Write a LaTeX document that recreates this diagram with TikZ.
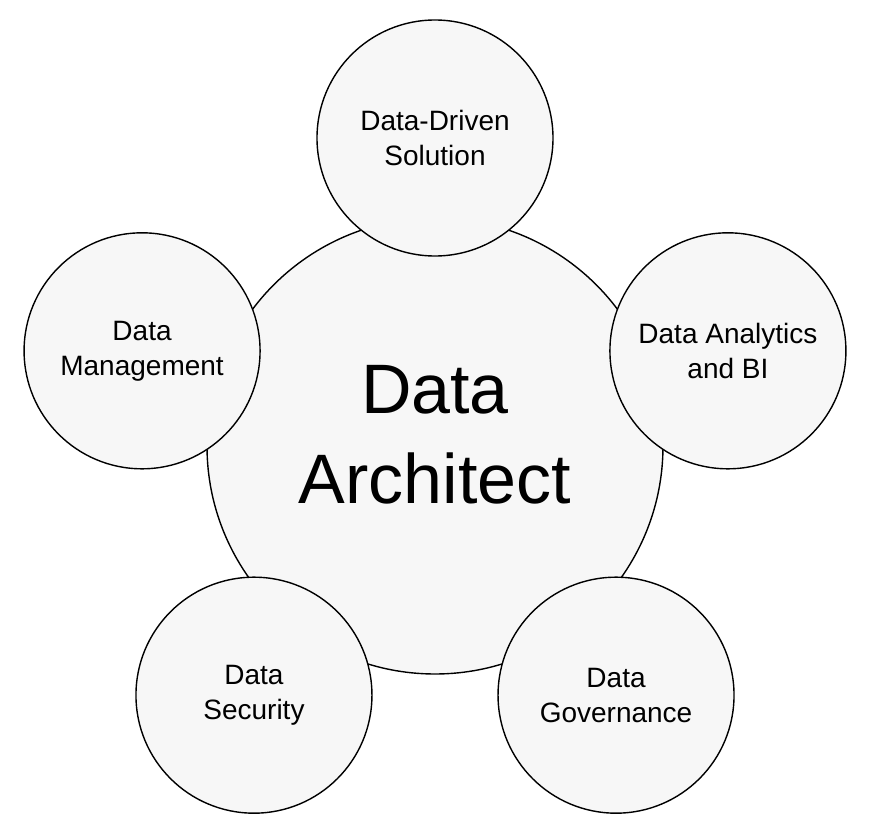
\documentclass[tikz,border=0pt]{standalone}
\usepackage{fontspec}
\setmainfont{Liberation Sans}
\definecolor{bubblefill}{RGB}{247,247,247}
\tikzset{bubble/.style={circle, draw=black, fill=bubblefill, line width=1.4pt, inner sep=0pt, align=center},
  topic/.style={bubble, minimum size=236pt, font=\fontsize{28}{35}\selectfont}}

\begin{document}
\begin{tikzpicture}[x=1pt, y=1pt]
\useasboundingbox (-435,-384) rectangle (435,446);
\node[bubble, minimum size=456pt, text depth=24pt, font=\fontsize{70}{90}\selectfont] (arch) at (0,0) {Data\\Architect};
\node[topic] (solution) at (90:308) {Data-Driven\\Solution};
\node[topic] (analytics) at (18:308) {Data Analytics\\and BI};
\node[topic] (governance) at (-54:308) {Data\\Governance};
\node[topic] (security) at (234:308) {Data\\Security};
\node[topic] (management) at (162:308) {Data\\Management};
\end{tikzpicture}
\end{document}
